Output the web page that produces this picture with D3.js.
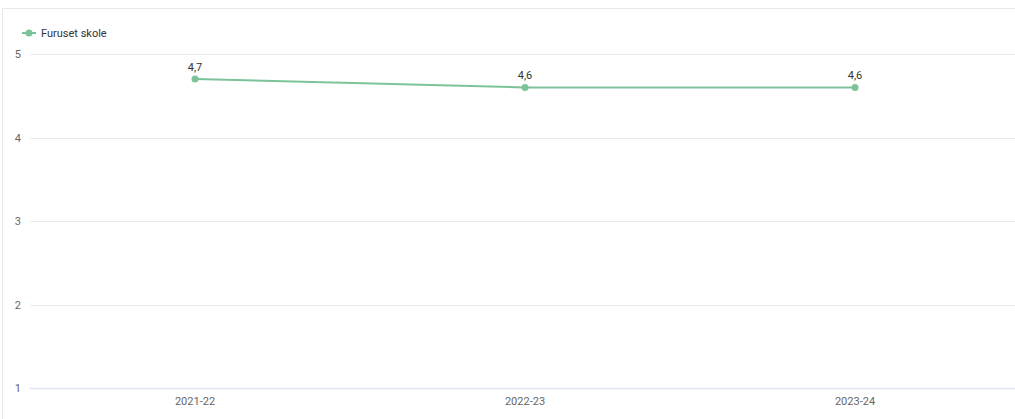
<!DOCTYPE html>
<html>
<head>
<meta charset="utf-8">
<script src="https://cdn.jsdelivr.net/npm/d3@7"></script>
<style>
  body { margin: 0; background: #fff; font-family: Roboto, "Noto Sans", sans-serif; }
  svg { display: block; }
</style>
</head>
<body>
<script>
const seriesName = "Furuset skole";
const years = ["2021-22", "2022-23", "2023-24"];
const values = [4.7, 4.6, 4.6];
const yTicks = [1, 2, 3, 4, 5];

const w = 1015, h = 419;
const lineColor = "#7cc39a";

const svg = d3.select("body").append("svg")
  .attr("width", w)
  .attr("height", h);

// card border (left + top)
svg.append("path")
  .attr("d", `M2.5,${h} L2.5,8.5 L${w},8.5`)
  .attr("fill", "none")
  .attr("stroke", "#e8e8e8");

const xScale = d3.scaleBand()
  .domain(years)
  .range([30, 1020]);

const yScale = d3.scaleLinear()
  .domain([1, 5])
  .range([388, 54]);

// grid lines
svg.append("g")
  .selectAll("line")
  .data(yTicks.filter(t => t !== 1))
  .join("line")
  .attr("x1", 30)
  .attr("x2", w)
  .attr("y1", d => Math.round(yScale(d)) + 0.5)
  .attr("y2", d => Math.round(yScale(d)) + 0.5)
  .attr("stroke", "#e9e9ec");

// baseline
svg.append("line")
  .attr("x1", 30)
  .attr("x2", w)
  .attr("y1", Math.round(yScale(1)) + 0.5)
  .attr("y2", Math.round(yScale(1)) + 0.5)
  .attr("stroke", "#dfe4f2")
  .attr("stroke-width", 1.5);

// y tick labels
const yAxis = d3.axisLeft(yScale).tickValues(yTicks).tickFormat(d3.format("d")).tickSize(0).tickPadding(0);
svg.append("g")
  .attr("transform", "translate(21,0)")
  .call(yAxis)
  .call(g => g.select(".domain").remove())
  .call(g => g.selectAll("text")
    .style("font-family", "Roboto, sans-serif")
    .style("font-size", "11px")
    .attr("fill", "#666"));

// x tick labels
const xAxis = d3.axisBottom(xScale).tickSize(0).tickPadding(0);
svg.append("g")
  .attr("transform", "translate(0,397)")
  .call(xAxis)
  .call(g => g.select(".domain").remove())
  .call(g => g.selectAll("text")
    .style("font-family", "Roboto, sans-serif")
    .style("font-size", "11px")
    .attr("fill", "#666"));

const cx = d => xScale(d) + xScale.bandwidth() / 2;
const data = years.map((y, i) => ({ year: y, value: values[i] }));

// line
svg.append("path")
  .datum(data)
  .attr("fill", "none")
  .attr("stroke", lineColor)
  .attr("stroke-width", 2)
  .attr("d", d3.line().x(d => cx(d.year)).y(d => yScale(d.value)));

// points
svg.selectAll("circle.pt")
  .data(data)
  .join("circle")
  .attr("class", "pt")
  .attr("cx", d => cx(d.year))
  .attr("cy", d => yScale(d.value))
  .attr("r", 3.5)
  .attr("fill", lineColor);

// value labels
svg.selectAll("text.lbl")
  .data(data)
  .join("text")
  .attr("class", "lbl")
  .attr("x", d => cx(d.year))
  .attr("y", d => yScale(d.value) - 8)
  .attr("text-anchor", "middle")
  .style("font-family", "Roboto, sans-serif")
  .style("font-size", "11px")
  .attr("fill", "#333")
  .text(d => d.value.toFixed(1).replace(".", ","));

// legend
const legend = svg.append("g").attr("transform", "translate(22,33)");
legend.append("line")
  .attr("x1", 0).attr("x2", 14)
  .attr("y1", 0).attr("y2", 0)
  .attr("stroke", lineColor)
  .attr("stroke-width", 2);
legend.append("circle")
  .attr("cx", 7).attr("cy", 0).attr("r", 3.5)
  .attr("fill", lineColor);
legend.append("text")
  .attr("x", 19)
  .attr("y", 4)
  .style("font-family", "Roboto, sans-serif")
  .style("font-size", "11px")
  .attr("fill", "#333")
  .text(seriesName);
</script>
</body>
</html>
